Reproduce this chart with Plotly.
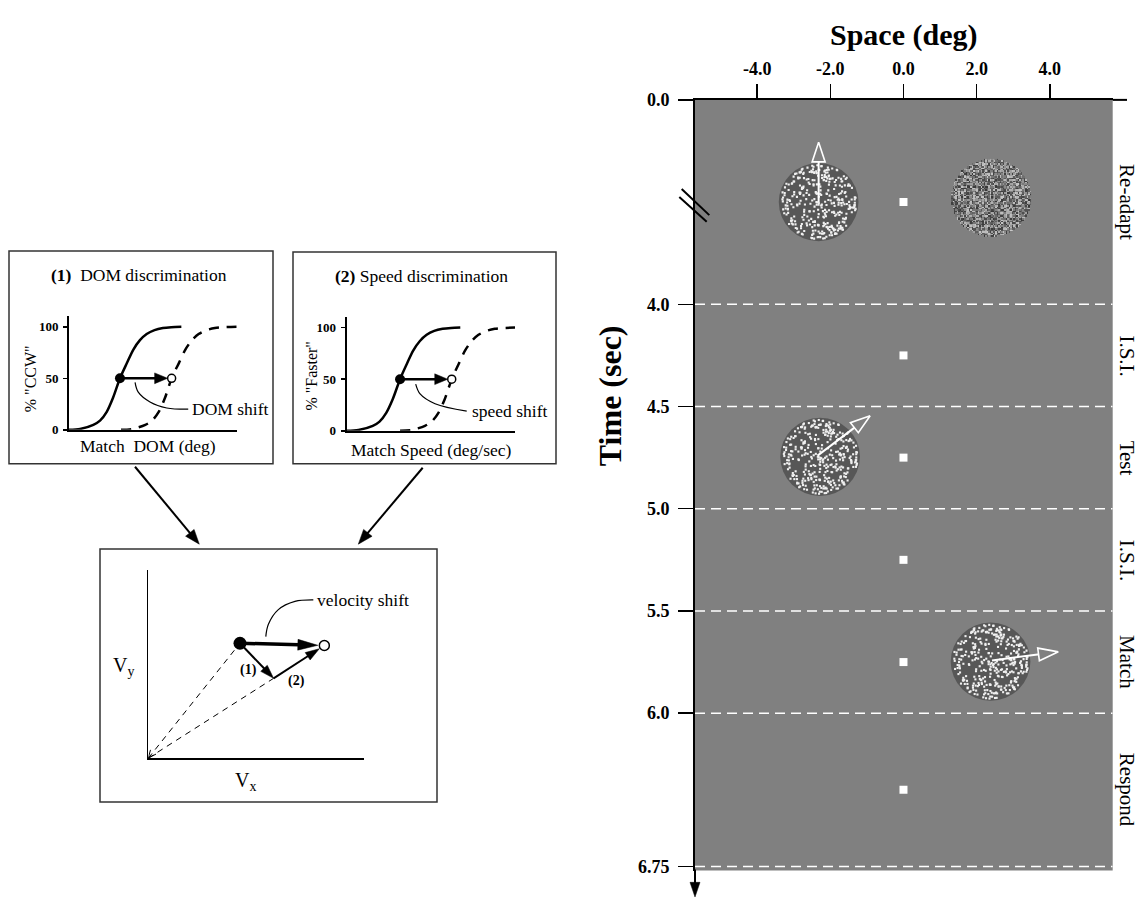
import math
import plotly.graph_objects as go

W, H = 1143, 907
SERIF = "Liberation Serif"

# ---------------- data ----------------
# (1) DOM discrimination psychometric curves (arbitrary DOM units 0..10, % "CCW")
dom_x = [0, 0.66, 1.45, 1.85, 2.25, 2.62, 3.04, 3.46, 3.83, 4.23, 4.63, 5.1, 5.6, 6.1, 6.7]
dom_y = [0, 0.8, 4.8, 8.9, 17.4, 30.8, 50, 65, 77.7, 87, 93, 96.8, 98.8, 99.6, 100]
dom_shift_x = [3.1, 3.76, 4.55, 4.95, 5.35, 5.72, 6.12, 6.56, 6.93, 7.33, 7.73, 8.2, 8.7, 9.2, 10.0]
dom_shift_y = [0, 0.8, 4.8, 8.9, 17.4, 30.8, 50, 65, 77.7, 87, 93, 96.8, 98.8, 99.6, 100]
dom_pse = [3.04, 6.12]
dom_leader_x = [3.94, 4.13, 4.83, 5.83, 7.11]
dom_leader_y = [46, 36.5, 27, 21.2, 20]

# (2) Speed discrimination psychometric curves (% "Faster")
spd_x = [0, 0.7, 1.55, 1.95, 2.35, 2.74, 3.17, 3.58, 3.95, 4.35, 4.75, 5.2, 5.7, 6.2, 6.75]
spd_y = [0, 0.8, 4.8, 8.9, 17.4, 30.8, 50, 65, 77.7, 87, 93, 96.8, 98.8, 99.6, 100]
spd_shift_x = [3.17, 3.85, 4.65, 5.05, 5.45, 5.83, 6.24, 6.66, 7.03, 7.43, 7.83, 8.3, 8.8, 9.3, 10.0]
spd_shift_y = [0, 0.8, 4.8, 8.9, 17.4, 30.8, 50, 65, 77.7, 87, 93, 96.8, 98.8, 99.6, 100]
spd_pse = [3.17, 6.24]
spd_leader_x = [4.1, 4.36, 5.25, 7.13]
spd_leader_y = [45.2, 35.7, 26.2, 19.0]
pct_ticks = [0, 50, 100]

# velocity space (Vx, Vy arbitrary units)
adapt_v = [4.245, 6.12]
dom_step_v = [5.8, 4.25]
match_v = [8.15, 6.0]
vel_leader_x = [5.44, 5.56, 6.02, 6.79, 7.64]
vel_leader_y = [6.47, 7.13, 7.91, 8.35, 8.43]

# trial timeline
space_ticks = [-4.0, -2.0, 0.0, 2.0, 4.0]
space_labels = ["-4.0", "-2.0", "0.0", "2.0", "4.0"]
time_ticks = [0.0, 4.0, 4.5, 5.0, 5.5, 6.0, 6.75]
time_labels = ["0.0", "4.0", "4.5", "5.0", "5.5", "6.0", "6.75"]
phase_bounds = [4.0, 4.5, 5.0, 5.5, 6.0, 6.75]
phase_names = ["Re-adapt", "I.S.I.", "Test", "I.S.I.", "Match", "Respond"]
phase_mid = [2.0, 4.25, 4.75, 5.25, 5.75, 6.375]
patch_x = [-2.32, 2.39, -2.28, 2.38]
patch_t = [2.0, 1.92, 4.746, 5.748]
patch_kind = ["dots", "noise", "dots", "dots"]
patch_radius_deg = 1.09
motion_tail_x = [-2.32, -2.35, 2.42]
motion_tail_t = [2.0, 4.74, 5.742]
motion_tip_x = [-2.32, -0.91, 4.235]
motion_tip_t = [0.83, 4.545, 5.70]


def tdisp(t):
    # broken time axis: 0..4 s compressed into one display unit
    return t if t >= 4.0 else 3.0 + t / 4.0


# ---------------- axis geometry (pixels) ----------------
class Ax:
    def __init__(self, px0, px1, xr, pyb, pyt, yr):
        self.px0, self.px1, self.xr = px0, px1, xr
        self.pyb, self.pyt, self.yr = pyb, pyt, yr

    def to_px(self, x, y):
        X = self.px0 + (x - self.xr[0]) / (self.xr[1] - self.xr[0]) * (self.px1 - self.px0)
        Y = self.pyb + (y - self.yr[0]) / (self.yr[1] - self.yr[0]) * (self.pyt - self.pyb)
        return X, Y

    def from_px(self, X, Y):
        x = self.xr[0] + (X - self.px0) / (self.px1 - self.px0) * (self.xr[1] - self.xr[0])
        y = self.yr[0] + (Y - self.pyb) / (self.pyt - self.pyb) * (self.yr[1] - self.yr[0])
        return x, y

    def xdom(self):
        return [self.px0 / W, self.px1 / W]

    def ydom(self):
        return [1 - self.pyb / H, 1 - self.pyt / H]


A = Ax(69, 236.7, (0, 10), 428.3, 312.7, (0, 110))
B = Ax(346.7, 515, (0, 10), 429.3, 313.5, (0, 110))
C = Ax(148.3, 364.3, (0, 10), 763.3, 571.7, (0, 10))
D = Ax(695, 1112.7, (-5.7, 5.72), 878, 91.7, (6.77, 3.0))
PAPER = Ax(0, W, (0, 1), H, 0, (0, 1))

fig = go.Figure()


def add(tr, k):
    sx = "" if k == 1 else str(k)
    tr.update(xaxis="x" + sx, yaxis="y" + sx, showlegend=False, hoverinfo="skip")
    fig.add_trace(tr)


def arrow_geom(ax, tail, tip, standoff, L, Wd):
    tx, ty = ax.to_px(*tail)
    hx, hy = ax.to_px(*tip)
    dx, dy = hx - tx, hy - ty
    n = math.hypot(dx, dy)
    ux, uy = dx / n, dy / n
    hx, hy = hx - ux * standoff, hy - uy * standoff
    bx, by = hx - ux * L, hy - uy * L
    nx, ny = -uy, ux
    shaft = [(tx, ty), (bx + ux * 1.0, by + uy * 1.0)]
    head = [(hx, hy), (bx + nx * Wd / 2, by + ny * Wd / 2), (bx - nx * Wd / 2, by - ny * Wd / 2), (hx, hy)]
    conv = lambda pts: [ax.from_px(X, Y) for X, Y in pts]
    return conv(shaft), conv(head)


def data_arrow(ax, k, tail, tip, standoff, L, Wd, lw, color="black", open_head=False, head_fill="black"):
    shaft, head = arrow_geom(ax, tail, tip, standoff, L, Wd)
    add(go.Scatter(x=[p[0] for p in shaft], y=[p[1] for p in shaft], mode="lines",
                   line=dict(color=color, width=lw)), k)
    add(go.Scatter(x=[p[0] for p in head], y=[p[1] for p in head], mode="lines",
                   fill="toself", fillcolor=head_fill if open_head else color,
                   line=dict(color=color, width=1.6 if open_head else 0.5)), k)


shapes = []
annotations = []


def paper_arrow(tail_px, tip_px, L, Wd, lw):
    shaft, head = arrow_geom(PAPER, PAPER.from_px(*tail_px), PAPER.from_px(*tip_px), 0, L, Wd)
    shapes.append(dict(type="line", xref="paper", yref="paper", x0=shaft[0][0], y0=shaft[0][1],
                       x1=shaft[1][0], y1=shaft[1][1], line=dict(color="black", width=lw)))
    path = "M{},{} L{},{} L{},{} Z".format(head[0][0], head[0][1], head[1][0], head[1][1], head[2][0], head[2][1])
    shapes.append(dict(type="path", xref="paper", yref="paper", path=path, fillcolor="black",
                       line=dict(color="black", width=0.5)))


def ptxt(text, px, py, size, angle=0, xanchor="center", color="black", weight="normal"):
    annotations.append(dict(text=text, x=px / W, y=1 - py / H, xref="paper", yref="paper",
                            showarrow=False, xanchor=xanchor, yanchor="middle", textangle=angle,
                            font=dict(family=SERIF, size=size, color=color, weight=weight)))


def box(x0, y0, x1, y1):
    shapes.append(dict(type="rect", xref="paper", yref="paper", x0=x0 / W, x1=x1 / W,
                       y0=1 - y1 / H, y1=1 - y0 / H, line=dict(color="#333333", width=1.5)))


# ---------------- panels (1) and (2) ----------------
for k, ax, cx, cy, sx, sy, pse, lx, ly in [
        (1, A, dom_x, dom_y, dom_shift_x, dom_shift_y, dom_pse, dom_leader_x, dom_leader_y),
        (2, B, spd_x, spd_y, spd_shift_x, spd_shift_y, spd_pse, spd_leader_x, spd_leader_y)]:
    add(go.Scatter(x=cx, y=cy, mode="lines",
                   line=dict(color="black", width=2.5, shape="spline", smoothing=0.8)), k)
    add(go.Scatter(x=sx, y=sy, mode="lines",
                   line=dict(color="black", width=2.5, shape="spline", smoothing=0.8, dash="10px,8px")), k)
    add(go.Scatter(x=lx, y=ly, mode="lines", line=dict(color="black", width=1.2, shape="spline")), k)
    data_arrow(ax, k, (pse[0], 50), (pse[1], 50), 4.0, 13, 11, 2.5)
    add(go.Scatter(x=[pse[0]], y=[50], mode="markers", cliponaxis=False,
                   marker=dict(color="black", size=10)), k)
    add(go.Scatter(x=[pse[1]], y=[50], mode="markers", cliponaxis=False,
                   marker=dict(color="white", size=8, line=dict(color="black", width=1.5))), k)

# ---------------- velocity panel ----------------
add(go.Scatter(x=[0, adapt_v[0]], y=[0, adapt_v[1]], mode="lines",
               line=dict(color="black", width=1, dash="6px,5px")), 3)
add(go.Scatter(x=[0, dom_step_v[0]], y=[0, dom_step_v[1]], mode="lines",
               line=dict(color="black", width=1, dash="6px,5px")), 3)
_, oh = arrow_geom(C, adapt_v, (0, 0), 0, 8, 7)
add(go.Scatter(x=[oh[1][0], oh[0][0], oh[2][0]], y=[oh[1][1], oh[0][1], oh[2][1]], mode="lines",
               line=dict(color="black", width=1), cliponaxis=False), 3)
add(go.Scatter(x=vel_leader_x, y=vel_leader_y, mode="lines",
               line=dict(color="black", width=1.2, shape="spline")), 3)
data_arrow(C, 3, adapt_v, match_v, 6.5, 20, 11, 3.5)
data_arrow(C, 3, adapt_v, dom_step_v, 0, 14, 9, 2)
data_arrow(C, 3, dom_step_v, match_v, 6.0, 14, 9, 2)
add(go.Scatter(x=[adapt_v[0]], y=[adapt_v[1]], mode="markers", marker=dict(color="black", size=13)), 3)
add(go.Scatter(x=[match_v[0]], y=[match_v[1]], mode="markers",
               marker=dict(color="white", size=10, line=dict(color="black", width=1.5))), 3)

# ---------------- timeline panel ----------------
GRAY = "#808080"
shapes.append(dict(type="rect", xref="x4 domain", yref="y4 domain", x0=0, x1=1, y0=0, y1=1,
                   fillcolor=GRAY, line=dict(width=0), layer="below"))


def h(i, j):
    # deterministic hash used only for the stimulus texture (dots / noise)
    v = math.sin(i * 12.9898 + j * 78.233) * 43758.5453
    return v - math.floor(v)


r_px = patch_radius_deg * (D.px1 - D.px0) / (D.xr[1] - D.xr[0])
for idx, (px_, pt_, kind) in enumerate(zip(patch_x, patch_t, patch_kind)):
    cX, cY = D.to_px(px_, tdisp(pt_))
    x0, y0 = D.from_px(cX - r_px, cY + r_px)
    x1, y1 = D.from_px(cX + r_px, cY - r_px)
    if kind == "dots":
        shapes.append(dict(type="circle", xref="x4", yref="y4", x0=x0, x1=x1, y0=y0, y1=y1,
                           fillcolor="#575757", line=dict(width=0), layer="below"))
        xs, ys = [], []
        for n in range(480):
            u, v = h(n + 37 * idx, 1.3) * 2 - 1, h(n + 37 * idx, 2.7) * 2 - 1
            if u * u + v * v < 0.9:
                X, Y = D.from_px(cX + u * r_px, cY + v * r_px)
                xs.append(X)
                ys.append(Y)
        add(go.Scatter(x=xs, y=ys, mode="markers",
                       marker=dict(symbol="square", size=2.1, color="#f0f0f0", line=dict(width=0))), 4)
    else:
        N = 54
        gx = [D.from_px(cX + (i - (N - 1) / 2) / (N / 2) * r_px, cY)[0] for i in range(N)]
        gy = [D.from_px(cX, cY + (j - (N - 1) / 2) / (N / 2) * r_px)[1] for j in range(N)]
        z = []
        for j in range(N):
            row = []
            for i in range(N):
                u = (i - (N - 1) / 2) / (N / 2)
                v = (j - (N - 1) / 2) / (N / 2)
                row.append(h(i + 3.1, j + 5.7) if u * u + v * v <= 1.0 else None)
            z.append(row)
        add(go.Heatmap(x=gx, y=gy, z=z, zmin=0, zmax=1, showscale=False, zsmooth=False,
                       colorscale=[[0, "rgb(55,55,55)"], [0.5, "rgb(120,120,120)"], [1, "rgb(200,200,200)"]]), 4)

# phase boundaries
bx, by = [], []
for b in phase_bounds:
    bx += [D.xr[0], D.xr[1], None]
    by += [tdisp(b), tdisp(b), None]
add(go.Scatter(x=bx, y=by, mode="lines", line=dict(color="white", width=1.5, dash="10px,6px")), 4)

# fixation squares
add(go.Scatter(x=[0.0] * len(phase_mid), y=[tdisp(t) for t in phase_mid], mode="markers",
               marker=dict(symbol="square", size=8, color="white", line=dict(width=0))), 4)

# motion direction arrows (open heads)
for tx, tt, hx, ht in zip(motion_tail_x, motion_tail_t, motion_tip_x, motion_tip_t):
    data_arrow(D, 4, (tx, tdisp(tt)), (hx, tdisp(ht)), 0, 20, 13, 2, color="white",
               open_head=True, head_fill=GRAY)

# phase labels
for name, t in zip(phase_names, phase_mid):
    annotations.append(dict(text=name, x=1127 / W, y=tdisp(t), xref="paper", yref="y4",
                            showarrow=False, textangle=90, xanchor="center", yanchor="middle",
                            font=dict(family=SERIF, size=21, color="black")))

# axis extensions, break mark
shapes.append(dict(type="line", xref="paper", yref="paper", x0=D.px1 / W, x1=1127 / W,
                   y0=1 - D.pyt / H, y1=1 - D.pyt / H, line=dict(color="black", width=2)))
paper_arrow((695, 877), (695, 905), 15, 10, 2)
for (a, b, c, d) in [(681.7, 182.7, 709.3, 209.3), (679.3, 190.7, 706.7, 216)]:
    shapes.append(dict(type="line", xref="paper", yref="paper", x0=a / W, y0=1 - b / H,
                       x1=c / W, y1=1 - d / H, line=dict(color="black", width=2)))

# boxes and connector arrows
box(9, 246, 273, 463)
box(293, 247, 556, 463)
box(100, 550, 437, 808)
paper_arrow((135, 466), (199.3, 545), 15, 11, 2)
paper_arrow((422.7, 467), (358.3, 545), 15, 11, 2)

# texts
ptxt("<b>(1)</b>\u00a0\u00a0DOM discrimination", 139, 270, 17.5)
ptxt("% \"CCW\"", 30, 376.7, 16, angle=-90)
ptxt("Match\u00a0\u00a0DOM (deg)", 148, 445, 17.5)
ptxt("DOM shift", 190, 406.7, 17.5, xanchor="left")
ptxt("<b>(2)</b> Speed discrimination", 421, 271.7, 17.5)
ptxt("% \"Faster\"", 312, 373, 16, angle=-90)
ptxt("Match Speed (deg/sec)", 431.7, 449, 17.5)
ptxt("speed shift", 470, 409.3, 17.5, xanchor="left")
ptxt("velocity shift", 315, 601.7, 17.5, xanchor="left")
ptxt("<b>(1)</b>", 248.3, 673.3, 14)
ptxt("<b>(2)</b>", 296.7, 685, 14)
ptxt("V<sub>y</sub>", 123.3, 670, 20)
ptxt("V<sub>x</sub>", 245, 786.7, 20)
ptxt("<b>Space (deg)</b>", 903, 26, 30)
ptxt("<b>Time (sec)</b>", 610, 394, 32, angle=-90)

# ---------------- layout ----------------
def plain_axis(ax, which, **kw):
    d = dict(domain=ax.xdom() if which == "x" else ax.ydom(),
             range=list(ax.xr if which == "x" else ax.yr),
             showgrid=False, zeroline=False, showline=True, linecolor="black", linewidth=2,
             ticks="", showticklabels=False, fixedrange=True)
    d.update(kw)
    return d


tf_small = dict(family=SERIF, size=13, color="black", weight="bold")
yt_small = dict(tickmode="array", tickvals=pct_ticks, ticktext=[str(v) for v in pct_ticks],
                ticks="outside", ticklen=4, tickwidth=1.5, tickcolor="black",
                showticklabels=True, tickfont=tf_small, ticklabelstandoff=2)

fig.update_layout(
    width=W, height=H, margin=dict(l=0, r=0, t=0, b=0),
    paper_bgcolor="white", plot_bgcolor="rgba(0,0,0,0)", showlegend=False,
    xaxis=plain_axis(A, "x", anchor="y"),
    yaxis=plain_axis(A, "y", anchor="x", **yt_small),
    xaxis2=plain_axis(B, "x", anchor="y2"),
    yaxis2=plain_axis(B, "y", anchor="x2", **yt_small),
    xaxis3=plain_axis(C, "x", anchor="y3", linewidth=1.5),
    yaxis3=plain_axis(C, "y", anchor="x3", linewidth=1.5),
    xaxis4=plain_axis(D, "x", anchor="y4", side="top", tickmode="array", tickvals=space_ticks,
                      ticktext=space_labels, ticks="outside", ticklen=14, tickwidth=1.5,
                      tickcolor="black", showticklabels=True, ticklabelstandoff=2,
                      tickfont=dict(family=SERIF, size=18, color="black", weight="bold")),
    yaxis4=plain_axis(D, "y", anchor="x4", tickmode="array", tickvals=[tdisp(t) for t in time_ticks],
                      ticktext=time_labels, ticks="outside", ticklen=15, tickwidth=1.5,
                      tickcolor="black", showticklabels=True, ticklabelstandoff=5,
                      tickfont=dict(family=SERIF, size=18, color="black", weight="bold")),
    shapes=shapes, annotations=annotations,
)

fig.write_html("out.html", config={"displayModeBar": False, "staticPlot": True})
